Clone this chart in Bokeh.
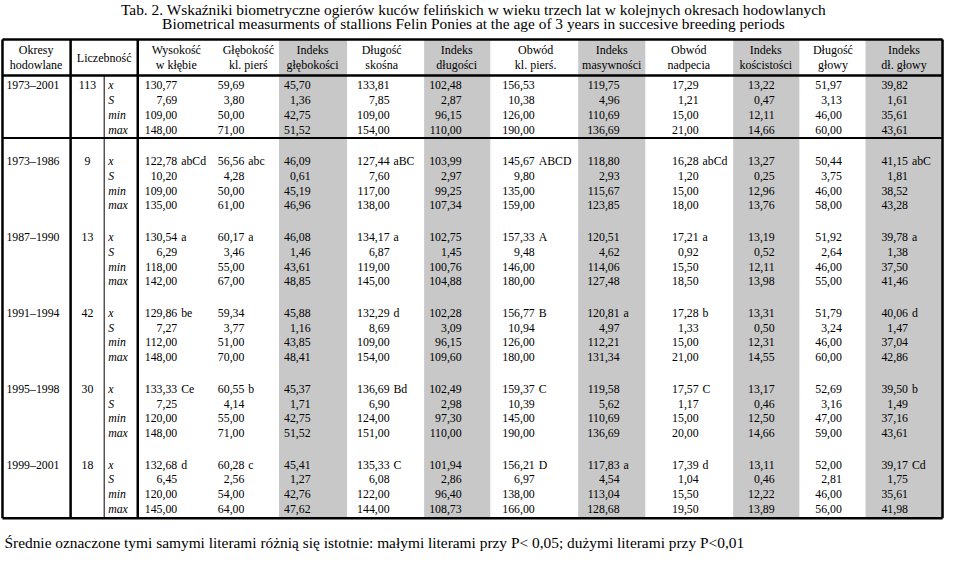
from bokeh.plotting import figure
from bokeh.models import Range1d
from bokeh.embed import file_html
from bokeh.resources import INLINE
from bokeh.core.properties import value

# ---------------- data ----------------
title_pl = "Tab. 2. Wskaźniki biometryczne ogierów kuców felińskich w wieku trzech lat w kolejnych okresach hodowlanych"
title_en = "Biometrical measurments of stallions Felin Ponies at the age of 3 years in succesive breeding periods"
footnote = "Średnie oznaczone tymi samymi literami różnią się istotnie: małymi literami przy P< 0,05; dużymi literami przy P<0,01"

periods = ["1973–2001", "1973–1986", "1987–1990", "1991–1994", "1995–1998", "1999–2001"]
counts = [113, 9, 13, 42, 30, 18]
stats = ["x", "S", "min", "max"]

head_period = ["Okresy", "hodowlane"]
head_count = ["Liczebność"]
measure_headers = [
    ["Wysokość", "w kłębie"], ["Głębokość", "kl. pierś"], ["Indeks", "głębokości"],
    ["Długość", "skośna"], ["Indeks", "długości"], ["Obwód", "kl. pierś."],
    ["Indeks", "masywności"], ["Obwód", "nadpecia"], ["Indeks", "kościstości"],
    ["Długość", "głowy"], ["Indeks", "dł. głowy"],
]
is_index = [False, False, True, False, True, False, True, False, True, False, True]

# each list: 6 periods x (mean, S, min, max)
wysokosc = [130.77, 7.69, 109.00, 148.00, 122.78, 10.20, 109.00, 135.00, 130.54, 6.29, 118.00, 142.00,
            129.86, 7.27, 112.00, 148.00, 133.33, 7.25, 120.00, 148.00, 132.68, 6.45, 120.00, 145.00]
glebokosc = [59.69, 3.80, 50.00, 71.00, 56.56, 4.28, 50.00, 61.00, 60.17, 3.46, 55.00, 67.00,
             59.34, 3.77, 51.00, 70.00, 60.55, 4.14, 55.00, 71.00, 60.28, 2.56, 54.00, 64.00]
ind_gleb = [45.70, 1.36, 42.75, 51.52, 46.09, 0.61, 45.19, 46.96, 46.08, 1.46, 43.61, 48.85,
            45.88, 1.16, 43.85, 48.41, 45.37, 1.71, 42.75, 51.52, 45.41, 1.27, 42.76, 47.62]
dl_skosna = [133.81, 7.85, 109.00, 154.00, 127.44, 7.60, 117.00, 138.00, 134.17, 6.87, 119.00, 145.00,
             132.29, 8.69, 109.00, 154.00, 136.69, 6.90, 124.00, 151.00, 135.33, 6.08, 122.00, 144.00]
ind_dl = [102.48, 2.87, 96.15, 110.00, 103.99, 2.97, 99.25, 107.34, 102.75, 1.45, 100.76, 104.88,
          102.28, 3.09, 96.15, 109.60, 102.49, 2.98, 97.30, 110.00, 101.94, 2.86, 96.40, 108.73]
obwod_kl = [156.53, 10.38, 126.00, 190.00, 145.67, 9.80, 135.00, 159.00, 157.33, 9.48, 146.00, 180.00,
            156.77, 10.94, 126.00, 180.00, 159.37, 10.39, 145.00, 190.00, 156.21, 6.97, 138.00, 166.00]
ind_masyw = [119.75, 4.96, 110.69, 136.69, 118.80, 2.93, 115.67, 123.85, 120.51, 4.62, 114.06, 127.48,
             120.81, 4.97, 112.21, 131.34, 119.58, 5.62, 110.69, 136.69, 117.83, 4.54, 113.04, 128.68]
obwod_nadp = [17.29, 1.21, 15.00, 21.00, 16.28, 1.20, 15.00, 18.00, 17.21, 0.92, 15.50, 18.50,
              17.28, 1.33, 15.00, 21.00, 17.57, 1.17, 15.00, 20.00, 17.39, 1.04, 15.50, 19.50]
ind_kosc = [13.22, 0.47, 12.11, 14.66, 13.27, 0.25, 12.96, 13.76, 13.19, 0.52, 12.11, 13.98,
            13.31, 0.50, 12.31, 14.55, 13.17, 0.46, 12.50, 14.66, 13.11, 0.46, 12.22, 13.89]
dl_glowy = [51.97, 3.13, 46.00, 60.00, 50.44, 3.75, 46.00, 58.00, 51.92, 2.64, 46.00, 55.00,
            51.79, 3.24, 46.00, 60.00, 52.69, 3.16, 47.00, 59.00, 52.00, 2.81, 46.00, 56.00]
ind_dl_glowy = [39.82, 1.61, 35.61, 43.61, 41.15, 1.81, 38.52, 43.28, 39.78, 1.38, 37.50, 41.46,
                40.06, 1.47, 37.04, 42.86, 39.50, 1.49, 37.16, 43.61, 39.17, 1.75, 35.61, 41.98]

# significance letters next to the means (one per period)
let_wysokosc = ["", "abCd", "a", "be", "Ce", "d"]
let_glebokosc = ["", "abc", "a", "", "b", "c"]
let_ind_gleb = ["", "", "", "", "", ""]
let_dl_skosna = ["", "aBC", "a", "d", "Bd", "C"]
let_ind_dl = ["", "", "", "", "", ""]
let_obwod_kl = ["", "ABCD", "A", "B", "C", "D"]
let_ind_masyw = ["", "", "", "a", "", "a"]
let_obwod_nadp = ["", "abCd", "a", "b", "C", "d"]
let_ind_kosc = ["", "", "", "", "", ""]
let_dl_glowy = ["", "", "", "", "", ""]
let_ind_dl_glowy = ["", "abC", "a", "d", "b", "Cd"]

measures = [wysokosc, glebokosc, ind_gleb, dl_skosna, ind_dl, obwod_kl,
            ind_masyw, obwod_nadp, ind_kosc, dl_glowy, ind_dl_glowy]
letters = [let_wysokosc, let_glebokosc, let_ind_gleb, let_dl_skosna, let_ind_dl, let_obwod_kl,
           let_ind_masyw, let_obwod_nadp, let_ind_kosc, let_dl_glowy, let_ind_dl_glowy]

# ---------------- layout ----------------
FONT = "Liberation Serif"
col_right = [180, 248, 315, 395, 468, 542, 628, 708, 785, 853, 920]
col_center = [179, 252, 317, 387, 463, 543, 620, 698, 776, 844, 916]
col_left_edge = [140, 215, 283, 352, 430, 497, 586, 654, 743, 810, 877]
col_right_edge = [215, 283, 352, 430, 497, 586, 654, 743, 810, 877, 955]
T_TOP, T_HEAD, T_SEP, T_BOT = 41, 78, 142, 532
X_L, X_P, X_N, X_C, X_R = 3, 72, 106, 140, 955
BLOCK0, BLOCK_STEP, ROW_STEP = 88, 77.8, 15.1


def fmt(v):
    return f"{v:.2f}".replace(".", ",")


p = figure(width=944, height=551, x_range=Range1d(1, 957), y_range=Range1d(566, 1),
           output_backend="svg", toolbar_location=None, min_border=0,
           x_axis_location=None, y_axis_location=None)
p.grid.visible = False
p.outline_line_color = None
p.background_fill_color = "white"
p.border_fill_color = "white"

# gray index columns
gl = [col_left_edge[i] for i in range(11) if is_index[i]]
gr = [col_right_edge[i] for i in range(11) if is_index[i]]
p.quad(left=gl, right=gr, top=[T_TOP] * len(gl), bottom=[T_BOT] * len(gl),
       fill_color="#c8c8c8", line_color=None)

# table lines
p.segment(x0=[X_L, X_L, X_L], y0=[T_TOP, T_HEAD, T_BOT], x1=[X_R, X_R, X_R], y1=[T_TOP, T_HEAD, T_BOT],
          line_color="black", line_width=2.5)
p.segment(x0=[X_L], y0=[T_SEP], x1=[X_R], y1=[T_SEP], line_color="black", line_width=2)
p.segment(x0=[X_L, X_R], y0=[T_TOP, T_TOP], x1=[X_L, X_R], y1=[T_BOT, T_BOT],
          line_color="black", line_width=2.5)
p.segment(x0=[X_P, X_C], y0=[T_TOP, T_TOP], x1=[X_P, X_C], y1=[T_BOT, T_BOT],
          line_color="black", line_width=2.5)
p.segment(x0=[X_N], y0=[T_HEAD], x1=[X_N], y1=[T_BOT], line_color="black", line_width=1)

# titles and footnote
p.text(x=[480, 480], y=[10, 25], text=[title_pl, title_en], text_font=value(FONT),
       text_font_size="15.4px", text_align="center", text_baseline="middle", text_color="black")
p.text(x=[5], y=[557], text=[footnote], text_font=value(FONT),
       text_font_size="15.4px", text_align="left", text_baseline="middle", text_color="black")

# header
hx, hy, ht = [], [], []
hx += [37, 37]; hy += [52, 67]; ht += head_period
hx += [106]; hy += [60]; ht += head_count
for i, h in enumerate(measure_headers):
    hx += [col_center[i], col_center[i]]
    hy += [52, 67]
    ht += h
p.text(x=hx, y=hy, text=ht, text_font=value(FONT), text_font_size="12px",
       text_align="center", text_baseline="middle", text_color="black")

# body
px, py, pt = [], [], []
nx, ny, nt = [], [], []
sx, sy, st = [], [], []
vx, vy, vt = [], [], []
lx, ly, lt = [], [], []
for b in range(6):
    y0 = BLOCK0 + b * BLOCK_STEP
    px.append(7); py.append(y0); pt.append(periods[b])
    nx.append(89); ny.append(y0); nt.append(str(counts[b]))
    for r in range(4):
        y = y0 + r * ROW_STEP
        sx.append(110); sy.append(y); st.append(stats[r])
        for c in range(11):
            vx.append(col_right[c]); vy.append(y); vt.append(fmt(measures[c][b * 4 + r]))
            if r == 0 and letters[c][b]:
                lx.append(col_right[c] + 4); ly.append(y); lt.append(letters[c][b])

common = dict(text_font=value(FONT), text_font_size="11.8px", text_baseline="middle", text_color="black")
p.text(x=px, y=py, text=pt, text_align="left", **common)
p.text(x=nx, y=ny, text=nt, text_align="center", **common)
p.text(x=sx, y=sy, text=st, text_align="left", text_font_style="italic", **common)
p.text(x=vx, y=vy, text=vt, text_align="right", **common)
p.text(x=lx, y=ly, text=lt, text_align="left", **common)

open("out.html", "w").write(file_html(p, INLINE))
